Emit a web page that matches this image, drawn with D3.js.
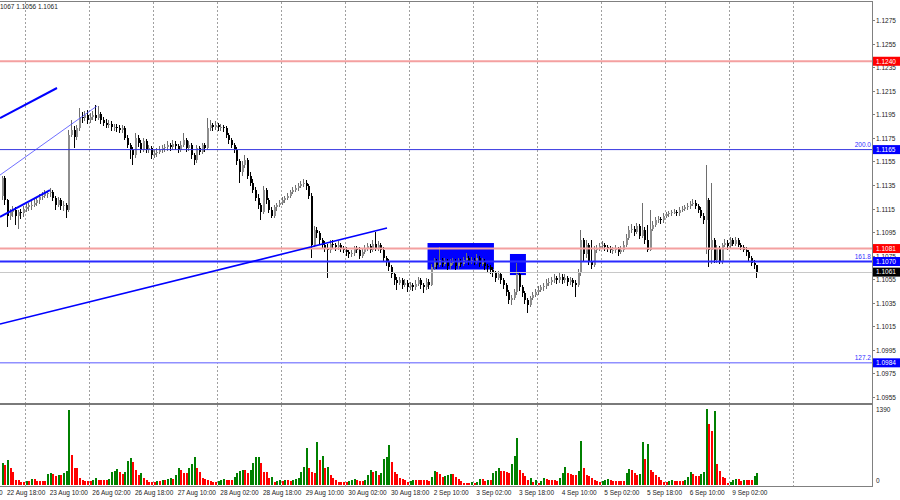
<!DOCTYPE html>
<html><head><meta charset="utf-8">
<script src="https://cdn.jsdelivr.net/npm/d3@7"></script>
<style>body{margin:0;background:#fff}svg{display:block}text{font-family:"Liberation Sans",Arial,sans-serif}</style>
</head><body><svg id="c" width="900" height="500"></svg>
<script>
// ---------- DATA (EURUSD H1, bar 0 = 22 Aug 16:00) ----------
const firstOpen = 1.1126;
const closes = [
1.1141,1.1122,1.1109,1.1112,1.1114,1.1109,1.1112,1.1111,1.1115,1.1116,
1.1118,1.1118,1.1120,1.1122,1.1125,1.1126,1.1128,1.1128,1.1129,1.1124,
1.1118,1.1122,1.1117,1.1118,1.1114,1.1177,1.1182,1.1176,1.1183,1.1193,
1.1192,1.1194,1.1190,1.1193,1.1194,1.1192,1.1195,1.1190,1.1188,1.1186,
1.1187,1.1184,1.1184,1.1183,1.1182,1.1183,1.1175,1.1169,1.1165,1.1160,
1.1175,1.1171,1.1165,1.1172,1.1165,1.1166,1.1160,1.1162,1.1163,1.1165,
1.1166,1.1167,1.1169,1.1167,1.1170,1.1168,1.1165,1.1169,1.1173,1.1166,
1.1169,1.1160,1.1156,1.1166,1.1163,1.1169,1.1166,1.1183,1.1186,1.1184,
1.1186,1.1184,1.1184,1.1183,1.1177,1.1173,1.1169,1.1165,1.1155,1.1146,
1.1152,1.1156,1.1143,1.1137,1.1131,1.1124,1.1118,1.1112,1.1131,1.1122,
1.1114,1.1109,1.1116,1.1118,1.1120,1.1122,1.1124,1.1126,1.1129,1.1131,
1.1132,1.1134,1.1136,1.1137,1.1134,1.1126,1.1084,1.1097,1.1094,1.1088,
1.1084,1.1081,1.1080,1.1085,1.1084,1.1082,1.1084,1.1081,1.1080,1.1078,
1.1076,1.1077,1.1081,1.1080,1.1075,1.1078,1.1081,1.1083,1.1080,1.1085,
1.1081,1.1084,1.1080,1.1073,1.1070,1.1065,1.1059,1.1054,1.1052,1.1054,
1.1050,1.1052,1.1048,1.1050,1.1048,1.1051,1.1054,1.1050,1.1048,1.1053,
1.1050,1.1065,1.1070,1.1067,1.1071,1.1068,1.1070,1.1066,1.1069,1.1070,
1.1066,1.1070,1.1068,1.1071,1.1073,1.1070,1.1071,1.1070,1.1073,1.1068,
1.1070,1.1066,1.1065,1.1063,1.1060,1.1056,1.1059,1.1054,1.1050,1.1044,
1.1037,1.1039,1.1044,1.1059,1.1048,1.1043,1.1037,1.1033,1.1039,1.1042,
1.1044,1.1046,1.1048,1.1049,1.1052,1.1053,1.1054,1.1056,1.1054,1.1057,
1.1054,1.1056,1.1053,1.1054,1.1052,1.1050,1.1061,1.1088,1.1076,1.1084,
1.1070,1.1067,1.1080,1.1081,1.1083,1.1084,1.1082,1.1081,1.1080,1.1080,
1.1081,1.1078,1.1080,1.1084,1.1090,1.1097,1.1098,1.1095,1.1100,1.1092,
1.1097,1.1088,1.1080,1.1098,1.1101,1.1105,1.1106,1.1105,1.1109,1.1110,
1.1111,1.1112,1.1112,1.1111,1.1114,1.1115,1.1116,1.1117,1.1119,1.1120,
1.1117,1.1114,1.1109,1.1105,1.1122,1.1080,1.1088,1.1071,1.1081,1.1070,
1.1084,1.1086,1.1083,1.1088,1.1085,1.1088,1.1084,1.1082,1.1080,1.1078,
1.1073,1.1069,1.1067,1.1061];
const highs = [
1.1143,1.1143,1.1123,1.1115,1.1117,1.1116,1.1114,1.1115,1.1117,1.1119,
1.1120,1.1121,1.1123,1.1125,1.1127,1.1129,1.1131,1.1130,1.1132,1.1131,
1.1126,1.1125,1.1124,1.1121,1.1120,1.1182,1.1190,1.1185,1.1186,1.1200,
1.1197,1.1198,1.1199,1.1196,1.1198,1.1203,1.1202,1.1197,1.1193,1.1191,
1.1190,1.1189,1.1187,1.1187,1.1186,1.1186,1.1185,1.1177,1.1171,1.1167,
1.1179,1.1177,1.1173,1.1175,1.1174,1.1169,1.1168,1.1165,1.1166,1.1168,
1.1169,1.1170,1.1172,1.1171,1.1173,1.1172,1.1170,1.1172,1.1179,1.1175,
1.1172,1.1171,1.1162,1.1169,1.1168,1.1171,1.1171,1.1192,1.1190,1.1188,
1.1189,1.1188,1.1187,1.1186,1.1185,1.1179,1.1175,1.1171,1.1167,1.1157,
1.1155,1.1160,1.1158,1.1146,1.1140,1.1133,1.1127,1.1120,1.1134,1.1132,
1.1124,1.1116,1.1118,1.1120,1.1122,1.1125,1.1126,1.1128,1.1131,1.1133,
1.1135,1.1137,1.1138,1.1140,1.1139,1.1136,1.1128,1.1100,1.1099,1.1096,
1.1090,1.1087,1.1085,1.1088,1.1088,1.1086,1.1087,1.1086,1.1083,1.1082,
1.1080,1.1080,1.1083,1.1083,1.1082,1.1081,1.1084,1.1086,1.1085,1.1088,
1.1095,1.1087,1.1086,1.1082,1.1075,1.1072,1.1067,1.1061,1.1057,1.1057,
1.1056,1.1055,1.1054,1.1053,1.1052,1.1054,1.1057,1.1056,1.1052,1.1056,
1.1055,1.1068,1.1073,1.1072,1.1082,1.1073,1.1073,1.1072,1.1072,1.1073,
1.1072,1.1073,1.1072,1.1074,1.1077,1.1075,1.1074,1.1073,1.1076,1.1075,
1.1073,1.1072,1.1068,1.1067,1.1065,1.1062,1.1062,1.1061,1.1056,1.1052,
1.1046,1.1042,1.1047,1.1069,1.1061,1.1050,1.1045,1.1039,1.1041,1.1044,
1.1047,1.1049,1.1050,1.1052,1.1055,1.1056,1.1057,1.1059,1.1058,1.1060,
1.1059,1.1059,1.1058,1.1057,1.1056,1.1054,1.1064,1.1097,1.1090,1.1088,
1.1086,1.1088,1.1083,1.1084,1.1086,1.1087,1.1086,1.1084,1.1083,1.1082,
1.1084,1.1082,1.1083,1.1087,1.1093,1.1100,1.1102,1.1100,1.1103,1.1102,
1.1120,1.1099,1.1101,1.1114,1.1104,1.1108,1.1109,1.1108,1.1111,1.1112,
1.1113,1.1114,1.1115,1.1114,1.1116,1.1117,1.1118,1.1120,1.1121,1.1123,
1.1122,1.1119,1.1116,1.1111,1.1152,1.1124,1.1137,1.1090,1.1084,1.1083,
1.1086,1.1089,1.1088,1.1091,1.1090,1.1091,1.1090,1.1086,1.1084,1.1082,
1.1080,1.1075,1.1071,1.1067];
const lows = [
1.1122,1.1118,1.1099,1.1105,1.1108,1.1101,1.1098,1.1106,1.1108,1.1112,
1.1113,1.1114,1.1116,1.1117,1.1119,1.1122,1.1124,1.1124,1.1125,1.1121,
1.1114,1.1116,1.1114,1.1113,1.1107,1.1112,1.1176,1.1166,1.1173,1.1181,
1.1188,1.1189,1.1187,1.1188,1.1190,1.1189,1.1190,1.1187,1.1185,1.1183,
1.1183,1.1181,1.1181,1.1180,1.1179,1.1179,1.1173,1.1166,1.1157,1.1152,
1.1158,1.1167,1.1162,1.1163,1.1162,1.1162,1.1157,1.1158,1.1159,1.1161,
1.1162,1.1163,1.1164,1.1164,1.1165,1.1165,1.1162,1.1163,1.1167,1.1163,
1.1164,1.1157,1.1152,1.1154,1.1160,1.1161,1.1163,1.1165,1.1181,1.1181,
1.1182,1.1181,1.1181,1.1180,1.1175,1.1170,1.1166,1.1162,1.1152,1.1137,
1.1143,1.1149,1.1140,1.1134,1.1128,1.1121,1.1115,1.1105,1.1110,1.1119,
1.1111,1.1107,1.1107,1.1113,1.1116,1.1118,1.1120,1.1122,1.1124,1.1127,
1.1129,1.1130,1.1132,1.1133,1.1131,1.1123,1.1073,1.1082,1.1090,1.1085,
1.1081,1.1078,1.1056,1.1077,1.1081,1.1079,1.1080,1.1078,1.1077,1.1075,
1.1073,1.1074,1.1075,1.1077,1.1072,1.1073,1.1076,1.1079,1.1077,1.1078,
1.1079,1.1079,1.1077,1.1070,1.1066,1.1062,1.1056,1.1050,1.1046,1.1050,
1.1047,1.1048,1.1044,1.1046,1.1045,1.1046,1.1049,1.1047,1.1043,1.1046,
1.1047,1.1049,1.1063,1.1064,1.1065,1.1065,1.1066,1.1063,1.1064,1.1067,
1.1063,1.1064,1.1065,1.1066,1.1069,1.1067,1.1068,1.1067,1.1068,1.1065,
1.1066,1.1063,1.1061,1.1059,1.1057,1.1053,1.1054,1.1051,1.1047,1.1041,
1.1034,1.1033,1.1037,1.1042,1.1045,1.1040,1.1034,1.1026,1.1031,1.1037,
1.1040,1.1042,1.1044,1.1045,1.1047,1.1049,1.1050,1.1052,1.1051,1.1052,
1.1051,1.1052,1.1049,1.1050,1.1048,1.1040,1.1048,1.1058,1.1070,1.1073,
1.1067,1.1064,1.1065,1.1077,1.1079,1.1081,1.1079,1.1078,1.1077,1.1076,
1.1077,1.1075,1.1076,1.1078,1.1082,1.1088,1.1094,1.1092,1.1093,1.1089,
1.1090,1.1085,1.1078,1.1079,1.1096,1.1099,1.1103,1.1102,1.1103,1.1107,
1.1108,1.1109,1.1110,1.1109,1.1109,1.1112,1.1113,1.1114,1.1115,1.1117,
1.1115,1.1111,1.1107,1.1102,1.1076,1.1065,1.1068,1.1069,1.1069,1.1068,
1.1068,1.1082,1.1080,1.1081,1.1083,1.1083,1.1082,1.1080,1.1078,1.1075,
1.1070,1.1066,1.1064,1.1056];
const volumes = [
396,366,457,305,244,92,92,61,
61,73,73,110,104,79,79,79,79,201,226,201,165,183,183,226,256,1372,549,305,305,122,92,79,
79,79,92,122,92,92,92,92,110,244,262,287,244,201,244,439,488,427,274,183,213,122,92,61,
61,61,73,73,92,92,110,122,110,183,317,274,213,213,305,384,506,305,244,122,110,92,79,61,
61,73,92,104,92,92,92,140,226,256,274,274,213,274,397,506,518,409,244,244,122,140,61,79,
92,79,92,92,79,92,104,122,244,336,683,305,244,213,793,457,531,305,336,183,122,92,61,61,
61,61,73,92,110,92,79,79,92,183,274,244,262,183,213,470,506,732,415,244,201,122,110,92,
61,79,92,92,92,92,92,92,73,153,256,244,201,153,165,183,195,195,153,110,73,43,31,31,
61,43,61,110,110,79,92,92,226,256,305,262,256,232,213,378,531,866,274,226,171,92,134,61,
92,43,73,122,110,92,92,92,73,122,226,323,226,195,183,183,262,805,305,183,165,122,92,73,
61,73,92,110,92,79,79,79,79,79,226,287,274,213,183,195,781,470,744,274,244,183,153,92,
61,61,73,92,79,73,73,73,92,153,244,201,171,165,201,232,1390,1110,988,1360,378,256,153,122,
43,61,92,110,110,73,92,92,92,92,165,226];
const timeLabels = ["22 Aug 02:00","22 Aug 18:00","23 Aug 10:00","26 Aug 02:00","26 Aug 18:00",
  "27 Aug 10:00","28 Aug 02:00","28 Aug 18:00","29 Aug 10:00","30 Aug 02:00","30 Aug 18:00",
  "2 Sep 10:00","3 Sep 02:00","3 Sep 18:00","4 Sep 10:00","5 Sep 02:00","5 Sep 18:00",
  "6 Sep 10:00","9 Sep 02:00"];
const timeLabelBars = [-14,2,18,34,50,66,82,98,114,130,146,162,178,194,210,226,242,258,274];
const priceTicks = [1.1275,1.1255,1.1235,1.1215,1.1195,1.1175,1.1155,1.1135,1.1115,1.1095,
  1.1075,1.1055,1.1035,1.1015,1.0995,1.0975,1.0955];
const levelPrices = [1.1240,1.1165,1.1081,1.1070,1.0984];
const levelNames = ["","200.0","","161.8","127.2"];
const bidPrice = 1.1061;
const headerText = "1067 1.1056 1.1061";
const volMax = 1390;
const zoneBars = [[159.7,184.6],[190.6,196.6]];
const zonePrices = [[1.10857,1.10632],[1.10764,1.10585]];
const trendBars = [[-0.63,20.75],[-0.63,35.74],[-0.63,18.12],[-0.63,144.5]];
const trendPrices = [[1.11918,1.12173],[1.11434,1.1202],[1.11078,1.11307],[1.10169,1.10984]];
const gridBars = [8.75,32.75,56.75,80.75,104.75,128.75,152.75,176.75,200.75,224.75,248.75,272.75,296.75];

// ---------- CHART ----------
const svg = d3.select("#c");
const W = 872;
const x = d3.scaleLinear().domain([-0.625, 326.375]).range([0, W]);
const y = d3.scaleLinear().domain([1.09499, 1.12903]).range([403, 2]);
const vy = d3.scaleLinear().domain([0, volMax]).range([485, 409]);
const FS = 6.5;

const defs = svg.append("defs");
defs.append("clipPath").attr("id","mainClip").append("rect").attr("x",0).attr("y",2).attr("width",W).attr("height",401);
defs.append("clipPath").attr("id","volClip").append("rect").attr("x",0).attr("y",405).attr("width",W).attr("height",81);

// grid
const grid = svg.append("g").attr("stroke","#a0a0a0").attr("stroke-dasharray","2,2").attr("shape-rendering","crispEdges");
gridBars.forEach(b => {
  const gx = Math.round(x(b)) + 0.5;
  if (gx > W) return;
  grid.append("line").attr("x1",gx).attr("x2",gx).attr("y1",2).attr("y2",403);
  grid.append("line").attr("x1",gx).attr("x2",gx).attr("y1",405).attr("y2",486);
});

const main = svg.append("g").attr("clip-path","url(#mainClip)");

// zones (background)
zoneBars.forEach((zb,i) => {
  main.append("rect").attr("x",x(zb[0])).attr("width",x(zb[1])-x(zb[0]))
    .attr("y",y(zonePrices[i][0])).attr("height",y(zonePrices[i][1])-y(zonePrices[i][0]))
    .attr("fill","#0000ff");
});

// candles
const cg = main.append("g").attr("shape-rendering","crispEdges");
closes.forEach((c,i) => {
  const o = i === 0 ? firstOpen : closes[i-1];
  const h = highs[i], l = lows[i];
  const bull = c >= o;
  const wickCol = bull ? "#6e6e6e" : "#000000";
  const bodyCol = bull ? "#8e8e8e" : "#000000";
  const px = Math.round(x(i));
  cg.append("line").attr("x1",px+0.5).attr("x2",px+0.5).attr("y1",y(h)).attr("y2",y(l)).attr("stroke",wickCol);
  const top = y(Math.max(o,c)), bot = y(Math.min(o,c));
  cg.append("rect").attr("x",px).attr("width",2).attr("y",top).attr("height",Math.max(1,bot-top)).attr("fill",bodyCol);
});

// horizontal levels
const levelStyles = [
  {c:"#f4a0a0", w:2, box:"#ff0000"},
  {c:"#3434e0", w:1, box:"#0000ff"},
  {c:"#f4a0a0", w:2, box:"#ff0000"},
  {c:"#2a2aff", w:2, box:"#0000ff"},
  {c:"#9090ff", w:1.5, box:"#0000ff"}
];
main.append("line").attr("x1",0).attr("x2",W).attr("y1",Math.round(y(bidPrice))+0.5).attr("y2",Math.round(y(bidPrice))+0.5)
  .attr("stroke","#c8c8c8");
levelPrices.forEach((p,i) => {
  const s = levelStyles[i];
  main.append("line").attr("x1",0).attr("x2",W).attr("y1",y(p)).attr("y2",y(p))
    .attr("stroke",s.c).attr("stroke-width",s.w);
  if (levelNames[i]) {
    svg.append("text").attr("x",W-1).attr("y",y(p)-2.5).attr("text-anchor","end")
      .attr("font-size",FS).attr("fill","#3030ff").text(levelNames[i]);
  }
});

// trend lines
const trendStyles = [{c:"#0000ff",w:2},{c:"#4a4aff",w:0.8},{c:"#0000ff",w:2},{c:"#0000ff",w:1.6}];
trendBars.forEach((tb,i) => {
  main.append("line").attr("x1",x(tb[0])).attr("y1",y(trendPrices[i][0]))
    .attr("x2",x(tb[1])).attr("y2",y(trendPrices[i][1]))
    .attr("stroke",trendStyles[i].c).attr("stroke-width",trendStyles[i].w);
});

// volumes
const vg = svg.append("g").attr("clip-path","url(#volClip)").attr("shape-rendering","crispEdges");
volumes.forEach((v,i) => {
  const up = i === 0 ? true : v > volumes[i-1];
  const px = Math.round(x(i));
  vg.append("rect").attr("x",px).attr("width",2).attr("y",vy(v)).attr("height",vy(0)-vy(v))
    .attr("fill", up ? "#008000" : "#ff0000");
});

// frames
const fr = svg.append("g").attr("shape-rendering","crispEdges");
fr.append("line").attr("x1",0).attr("x2",W).attr("y1",1.5).attr("y2",1.5).attr("stroke","#808080");
fr.append("rect").attr("x",0).attr("width",W).attr("y",403).attr("height",2).attr("fill","#7a7a7a");
fr.append("line").attr("x1",0).attr("x2",W).attr("y1",486.5).attr("y2",486.5).attr("stroke","#808080");
fr.append("line").attr("x1",W+0.5).attr("x2",W+0.5).attr("y1",1).attr("y2",487).attr("stroke","#808080");

// price axis
priceTicks.forEach(p => {
  const ty = Math.round(y(p)) + 0.5;
  fr.append("line").attr("x1",W).attr("x2",W+3).attr("y1",ty).attr("y2",ty).attr("stroke","#808080");
  svg.append("text").attr("x",W+4).attr("y",ty).attr("dy","0.35em").attr("font-size",FS).attr("fill","#222").text(p.toFixed(4));
});
// price boxes
const boxes = levelPrices.map((p,i)=>({p, col: levelStyles[i].box})).concat([{p:bidPrice, col:"#000000"}]);
boxes.forEach(b => {
  const by = y(b.p);
  svg.append("rect").attr("x",W+1).attr("width",27).attr("y",by-4.5).attr("height",9).attr("fill",b.col);
  svg.append("text").attr("x",W+4).attr("y",by).attr("dy","0.35em").attr("font-size",FS).attr("fill","#fff").text(b.p.toFixed(4));
});

// volume axis
[volMax, 0].forEach(v => {
  const ty = v === 0 ? 481 : vy(v) + 1;
  svg.append("text").attr("x",W+4).attr("y",ty).attr("dy","0.35em").attr("font-size",FS).attr("fill","#222").text(v);
});

// time axis
timeLabels.forEach((t,i) => {
  svg.append("text").attr("x",x(timeLabelBars[i])).attr("y",494.5).attr("font-size",FS).attr("fill","#222").text(t);
});

// header
svg.append("text").attr("x",0).attr("y",9).attr("font-size",FS).attr("fill","#222").text(headerText);
</script></body></html>
